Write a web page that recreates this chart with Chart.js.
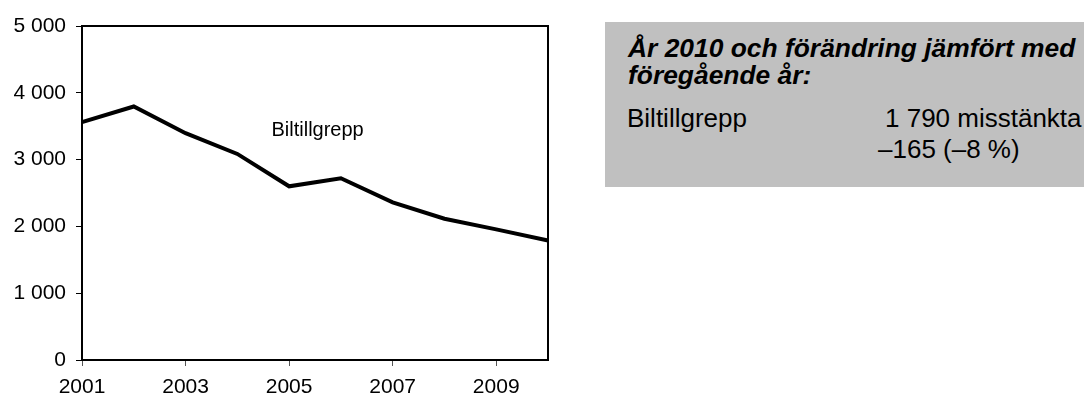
<!DOCTYPE html>
<html>
<head>
<meta charset="utf-8">
<script src="https://cdn.jsdelivr.net/npm/chart.js@4"></script>
<style>
  body { margin: 0; background: #fff; font-family: "Liberation Sans", Arial, sans-serif; }
  #wrap { position: relative; width: 1084px; height: 400px; overflow: hidden; }
  #box { position: absolute; left: 605px; top: 22px; width: 479px; height: 165px; background: #c0c0c0; overflow: hidden; }
  #box div { position: absolute; line-height: 1; white-space: nowrap; color: #000; }
  .ttl { font-weight: bold; font-style: italic; font-size: 26.4px; left: 23px; }
  .row { font-size: 26px; }
</style>
</head>
<body>
<div id="wrap">
  <canvas id="lineChart" width="1084" height="400"></canvas>
  <div id="box">
    <div class="ttl" style="top:13px">År 2010 och förändring jämfört med</div>
    <div class="ttl" style="top:40px">föregående år:</div>
    <div class="row" style="left:22px; top:83px">Biltillgrepp</div>
    <div class="row" style="left:280px; top:83px">1 790 misstänkta</div>
    <div class="row" style="left:273px; top:114px">–165 (–8 %)</div>
  </div>
</div>
<script>
var years = ['2001','2002','2003','2004','2005','2006','2007','2008','2009','2010'];
var misstankta = [3560, 3795, 3395, 3085, 2600, 2720, 2360, 2115, 1955, 1790];
var serieNamn = 'Biltillgrepp';

function mellanrum(v) {
  return String(v).replace(/\B(?=(\d{3})+(?!\d))/g, ' ');
}

// ram runt ritytan + serieetikett
var ramPlugin = {
  id: 'ram',
  afterDraw: function(chart) {
    var c = chart.ctx, a = chart.chartArea;
    c.save();
    c.strokeStyle = '#000';
    c.lineWidth = 2;
    c.strokeRect(a.left, a.top, a.right - a.left, a.bottom - a.top);
    c.fillStyle = '#000';
    c.font = '20px "Liberation Sans", Arial, sans-serif';
    c.textAlign = 'center';
    c.textBaseline = 'middle';
    var x = chart.scales.x.getPixelForValue(4.55);
    var y = chart.scales.y.getPixelForValue(3440);
    c.fillText(serieNamn, x, y);
    c.restore();
  }
};

var ctx = document.getElementById('lineChart').getContext('2d');
var myChart = new Chart(ctx, {
  type: 'line',
  data: {
    labels: years,
    datasets: [{
      label: serieNamn,
      data: misstankta,
      borderColor: '#000',
      borderWidth: 4,
      pointRadius: 0,
      tension: 0,
      fill: false
    }]
  },
  options: {
    responsive: false,
    animation: false,
    layout: { padding: { top: 26, right: 536, left: 0, bottom: 0 } },
    plugins: { legend: { display: false }, tooltip: { enabled: false } },
    scales: {
      x: {
        offset: false,
        grid: {
          drawOnChartArea: false,
          tickLength: 6,
          color: function(c) { return c.index % 2 == 0 ? '#555' : 'rgba(0,0,0,0)'; }
        },
        border: { color: '#000', width: 2 },
        ticks: {
          autoSkip: false,
          maxRotation: 0,
          padding: 9,
          color: '#000',
          font: { family: '"Liberation Sans", Arial, sans-serif', size: 21 },
          callback: function(v, i) { return i % 2 == 0 ? this.getLabelForValue(v) : ''; }
        },
        afterFit: function(s) { s.height = 40; }
      },
      y: {
        min: 0,
        max: 5000,
        grid: { drawOnChartArea: false, tickLength: 6, color: '#000' },
        border: { color: '#000', width: 2 },
        ticks: {
          stepSize: 1000,
          padding: 10,
          color: '#000',
          font: { family: '"Liberation Sans", Arial, sans-serif', size: 21 },
          callback: function(v) { return mellanrum(v); }
        },
        afterFit: function(s) { s.width = 82; }
      }
    }
  },
  plugins: [ramPlugin]
});
</script>
</body>
</html>
